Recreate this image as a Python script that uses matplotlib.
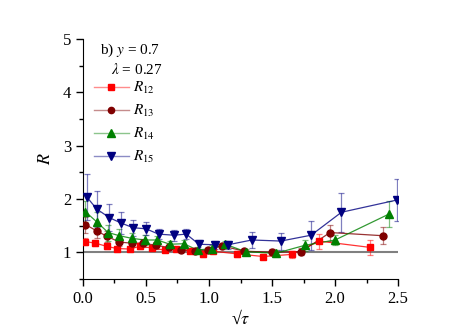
import numpy as np
import matplotlib.pyplot as plt
from matplotlib.lines import Line2D
from matplotlib.colors import to_rgba

plt.rcParams['font.family'] = ['Liberation Serif', 'DejaVu Serif']
plt.rcParams['mathtext.fontset'] = 'stix'

# Data
x12 = [0.02, 0.10, 0.19, 0.27, 0.37, 0.45, 0.55, 0.65, 0.74, 0.85, 0.95, 1.03, 1.22, 1.43, 1.66, 1.87, 2.28]
y12 = [1.20, 1.17, 1.11, 1.07, 1.06, 1.11, 1.08, 1.04, 1.06, 1.03, 0.96, 1.02, 0.97, 0.92, 0.96, 1.21, 1.09]
e12 = [0.06, 0.06, 0.05, 0.05, 0.04, 0.04, 0.04, 0.04, 0.04, 0.04, 0.04, 0.04, 0.05, 0.05, 0.06, 0.14, 0.14]

x13 = [0.02, 0.11, 0.19, 0.29, 0.39, 0.48, 0.58, 0.68, 0.78, 0.89, 0.99, 1.10, 1.28, 1.50, 1.73, 1.96, 2.38]
y13 = [1.52, 1.40, 1.30, 1.19, 1.17, 1.17, 1.13, 1.09, 1.05, 1.02, 1.04, 1.12, 1.02, 1.00, 1.01, 1.37, 1.31]
e13 = [0.15, 0.13, 0.10, 0.08, 0.07, 0.07, 0.06, 0.05, 0.05, 0.05, 0.05, 0.05, 0.05, 0.06, 0.07, 0.15, 0.16]

x14 = [0.02, 0.11, 0.20, 0.29, 0.39, 0.49, 0.59, 0.69, 0.80, 0.91, 1.02, 1.13, 1.29, 1.53, 1.76, 2.00, 2.43]
y14 = [1.76, 1.57, 1.37, 1.31, 1.26, 1.23, 1.23, 1.15, 1.16, 1.04, 1.07, 1.15, 1.01, 0.98, 1.13, 1.23, 1.72]
e14 = [0.20, 0.18, 0.15, 0.12, 0.10, 0.10, 0.08, 0.07, 0.07, 0.06, 0.06, 0.06, 0.06, 0.06, 0.10, 0.10, 0.25]

x15 = [0.03, 0.11, 0.21, 0.30, 0.40, 0.50, 0.60, 0.72, 0.82, 0.92, 1.05, 1.15, 1.34, 1.57, 1.81, 2.05, 2.49]
y15 = [2.04, 1.81, 1.65, 1.55, 1.46, 1.44, 1.34, 1.32, 1.34, 1.15, 1.14, 1.14, 1.23, 1.21, 1.32, 1.75, 1.98]
e15 = [0.43, 0.33, 0.25, 0.20, 0.15, 0.12, 0.10, 0.10, 0.10, 0.08, 0.08, 0.08, 0.15, 0.16, 0.27, 0.37, 0.40]

series = [
    (x12, y12, e12, '#FF0000', 's', 4.5, r'$R_{12}$'),
    (x13, y13, e13, '#800000', 'o', 5, r'$R_{13}$'),
    (x14, y14, e14, '#008000', '^', 5.8, r'$R_{14}$'),
    (x15, y15, e15, '#000080', 'v', 5.8, r'$R_{15}$'),
]

fig = plt.figure(figsize=(4.63, 3.34), dpi=100)
ax = fig.add_axes([0.179, 0.165, 0.681, 0.718])

ax.axhline(1, color='#808080', lw=1.5, zorder=1)

handles = []
for x, y, e, c, m, ms, lab in series:
    ax.errorbar(x, y, yerr=e, fmt='none', ecolor=c, alpha=0.5, elinewidth=0.9,
                capsize=2.5, capthick=0.9, zorder=2)
    ax.plot(x, y, '-', color=c, lw=0.9, alpha=0.8, zorder=3)
    ax.plot(x, y, m, color=c, ms=ms, mec=c, lw=0, zorder=4)
    handles.append(Line2D([], [], color=to_rgba(c, 0.45), lw=1.0, marker=m, ms=ms - 0.5,
                          markerfacecolor=c, markeredgecolor=c, label=lab))

ax.set_xlim(0, 2.5)
ax.set_ylim(0.5, 5)
ax.set_xticks(np.arange(0, 2.51, 0.5))
ax.set_xticks(np.arange(0, 2.51, 0.25), minor=True)
ax.set_yticks([1, 2, 3, 4, 5])
ax.set_yticks(np.arange(0.5, 5.01, 0.5), minor=True)
ax.set_xticklabels(['0.0', '0.5', '1.0', '1.5', '2.0', '2.5'])
ax.tick_params(which='major', direction='out', length=5, width=1, labelsize=12)
ax.tick_params(which='minor', direction='out', length=3, width=1)
ax.spines['top'].set_visible(False)
ax.spines['right'].set_visible(False)

ax.set_xlabel('√$\\tau$', fontsize=13, labelpad=2)
ax.set_ylabel(r'$R$', fontsize=13, labelpad=6)

ax.text(0.055, 0.99, r'b) $y$ = 0.7', transform=ax.transAxes, fontsize=11, va='top')
ax.text(0.09, 0.905, r'$\lambda$ = 0.27', transform=ax.transAxes, fontsize=11, va='top')

ax.legend(handles=handles, loc='upper left', bbox_to_anchor=(0.015, 0.855), frameon=False,
          fontsize=11, handlelength=2.3, handletextpad=0.3, labelspacing=0.45,
          borderaxespad=0.0)

fig.savefig('out.png', dpi=100)
